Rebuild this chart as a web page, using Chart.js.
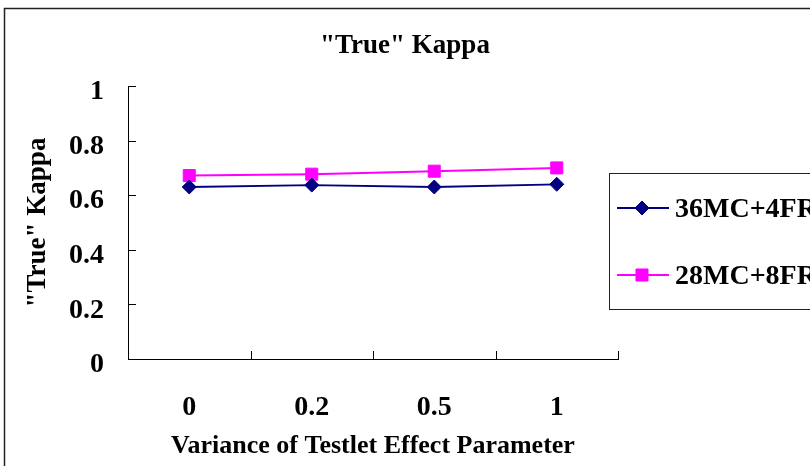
<!DOCTYPE html>
<html>
<head>
<meta charset="utf-8">
<script src="https://cdn.jsdelivr.net/npm/chart.js@4.4.0/dist/chart.umd.min.js"></script>
<style>
  html, body { margin: 0; padding: 0; background: #fff; }
  canvas { display: block; }
</style>
</head>
<body>
<canvas id="kappaChart" width="810" height="466"></canvas>
<script>
const categories = ['0', '0.2', '0.5', '1'];
const seriesNames = ['36MC+4FR', '28MC+8FR'];
const kappa36MC = [0.63, 0.637, 0.63, 0.64];
const kappa28MC = [0.672, 0.677, 0.688, 0.70];
const yTicks = [0, 0.2, 0.4, 0.6, 0.8, 1];

const FONT = 'Liberation Serif';
const TICK_LEN = 8;

// white page + outer frame of the chart object (cut off at right/bottom)
const framePlugin = {
  id: 'frame',
  beforeDraw(chart) {
    const ctx = chart.ctx;
    ctx.save();
    ctx.fillStyle = '#fff';
    ctx.fillRect(0, 0, chart.width, chart.height);
    ctx.strokeStyle = '#222';
    ctx.lineWidth = 1.5;
    ctx.strokeRect(4.5, 8.5, chart.width + 20, chart.height + 20);
    ctx.restore();
  }
};

// Excel style tick marks that point into the plot
const insideTicks = {
  id: 'insideTicks',
  afterDraw(chart) {
    const ctx = chart.ctx;
    const x = chart.scales.x;
    const y = chart.scales.y;
    const area = chart.chartArea;
    ctx.save();
    ctx.strokeStyle = '#000';
    ctx.lineWidth = 1;
    ctx.beginPath();
    y.ticks.forEach(t => {
      const py = Math.round(y.getPixelForValue(t.value)) + 0.5;
      ctx.moveTo(area.left, py);
      ctx.lineTo(area.left + TICK_LEN, py);
    });
    for (let i = 0; i <= categories.length; i++) {
      const px = Math.round(x.getPixelForValue(i - 0.5)) + 0.5;
      ctx.moveTo(px, area.bottom);
      ctx.lineTo(px, area.bottom - TICK_LEN);
    }
    ctx.stroke();
    ctx.restore();
  }
};

function drawMarker(ctx, style, cx, cy, r, color) {
  ctx.fillStyle = color;
  ctx.strokeStyle = color;
  ctx.beginPath();
  if (style === 'rectRot') {
    ctx.moveTo(cx - r, cy);
    ctx.lineTo(cx, cy - r);
    ctx.lineTo(cx + r, cy);
    ctx.lineTo(cx, cy + r);
    ctx.closePath();
  } else {
    const s = r * Math.SQRT1_2;
    ctx.rect(cx - s, cy - s, 2 * s, 2 * s);
  }
  ctx.fill();
  ctx.stroke();
}

// legend box on the right, partly outside the page like the original
const legendBox = {
  id: 'legendBox',
  afterDraw(chart) {
    const ctx = chart.ctx;
    ctx.save();
    ctx.strokeStyle = '#222';
    ctx.lineWidth = 1;
    ctx.strokeRect(609.5, 173.5, 240, 136);
    const rows = [208, 275];
    chart.data.datasets.forEach((ds, i) => {
      const yy = rows[i];
      ctx.strokeStyle = ds.borderColor;
      ctx.lineWidth = ds.borderWidth;
      ctx.beginPath();
      ctx.moveTo(617, yy);
      ctx.lineTo(669, yy);
      ctx.stroke();
      ctx.lineWidth = 1;
      drawMarker(ctx, ds.pointStyle, 642, yy, ds.pointRadius, ds.borderColor);
      ctx.fillStyle = '#000';
      ctx.font = 'bold 28px "' + FONT + '"';
      ctx.textAlign = 'left';
      ctx.textBaseline = 'middle';
      ctx.fillText(ds.label, 675, yy + 2);
    });
    ctx.restore();
  }
};

new Chart(document.getElementById('kappaChart'), {
  type: 'line',
  data: {
    labels: categories,
    datasets: [
      {
        label: seriesNames[0],
        data: kappa36MC,
        borderColor: '#000080',
        backgroundColor: '#000080',
        borderWidth: 1.8,
        pointStyle: 'rectRot',
        pointRadius: 7,
        pointBorderWidth: 1,
        tension: 0
      },
      {
        label: seriesNames[1],
        data: kappa28MC,
        borderColor: '#FF00FF',
        backgroundColor: '#FF00FF',
        borderWidth: 2,
        pointStyle: 'rect',
        pointRadius: 8.5,
        pointBorderWidth: 1,
        tension: 0
      }
    ]
  },
  options: {
    responsive: false,
    animation: false,
    layout: { padding: 0 },
    plugins: {
      legend: { display: false },
      tooltip: { enabled: false },
      title: {
        display: true,
        text: '"True" Kappa',
        color: '#000',
        font: { family: FONT, size: 27, weight: 'bold' },
        padding: { top: 30, bottom: 23.6 }
      }
    },
    scales: {
      x: {
        offset: true,
        grid: { display: false, offset: true, drawTicks: false },
        border: { display: true, color: '#000', width: 1 },
        ticks: {
          color: '#000',
          padding: 32,
          font: { family: FONT, size: 28, weight: 'bold' }
        },
        title: {
          display: true,
          text: 'Variance of Testlet Effect Parameter',
          color: '#000',
          font: { family: FONT, size: 26, weight: 'bold' },
          padding: { top: 0, bottom: 4 }
        },
        afterFit: s => { s.height = 107; }
      },
      y: {
        min: 0,
        max: 1,
        afterBuildTicks: s => { s.ticks = yTicks.map(v => ({ value: v })); },
        grid: { display: false, drawTicks: false },
        border: { display: true, color: '#000', width: 1 },
        ticks: {
          color: '#000',
          padding: 24,
          labelOffset: 6,
          callback: v => String(v),
          font: { family: FONT, size: 28, weight: 'bold' }
        },
        title: {
          display: true,
          text: '"True" Kappa',
          color: '#000',
          font: { family: FONT, size: 27, weight: 'bold' },
          padding: { top: 22, bottom: 0 }
        },
        afterFit: s => { s.width = 128; }
      },
      // empty axis that only reserves the room where the legend sits
      yRight: {
        position: 'right',
        display: true,
        grid: { display: false, drawTicks: false },
        border: { display: false },
        ticks: { display: false },
        afterFit: s => { s.width = 192; }
      }
    }
  },
  plugins: [framePlugin, insideTicks, legendBox]
});
</script>
</body>
</html>
